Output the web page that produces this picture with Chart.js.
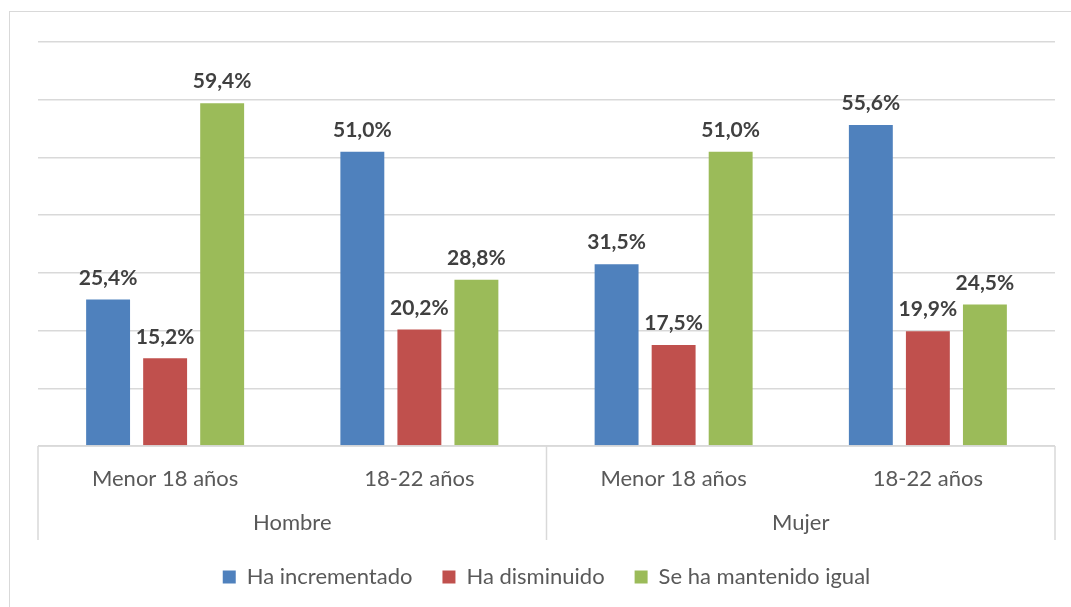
<!DOCTYPE html>
<html>
<head>
<meta charset="utf-8">
<script src="https://cdn.jsdelivr.net/npm/chart.js@4.4.0/dist/chart.umd.min.js"></script>
<style>
  html, body { margin: 0; padding: 0; background: #ffffff; }
  #wrap { position: relative; width: 1071px; height: 607px; overflow: hidden; }
  #frame { position: absolute; left: 9px; top: 11px; width: 1100px; height: 700px;
           border: 1.5px solid #d9d9d9; box-sizing: border-box; }
  #chart { position: absolute; left: 0; top: 0; }
</style>
</head>
<body>
<div id="wrap">
  <div id="frame"></div>
  <canvas id="chart" width="1071" height="607"></canvas>
</div>
<script>
const categories = ['Menor 18 años', '18-22 años', 'Menor 18 años', '18-22 años'];
const groups = ['Hombre', 'Mujer'];
const seriesNames = ['Ha incrementado', 'Ha disminuido', 'Se ha mantenido igual'];
const incrementado = [25.4, 51.0, 31.5, 55.6];
const disminuido = [15.2, 20.2, 17.5, 19.9];
const igual = [59.4, 28.8, 51.0, 24.5];

const COLORS = ['#4f81bd', '#c0504d', '#9bbb59'];
const FONT = 'Lato, "Open Sans", sans-serif';

function fmt(v) {
    return v.toFixed(1).replace('.', ',') + '%';
}

// value labels above every bar
const valueLabels = {
    id: 'valueLabels',
    afterDatasetsDraw(chart) {
        const ctx = chart.ctx;
        ctx.save();
        ctx.font = 'bold 21px ' + FONT;
        ctx.fillStyle = '#404040';
        ctx.textAlign = 'center';
        ctx.textBaseline = 'bottom';
        chart.data.datasets.forEach((ds, i) => {
            chart.getDatasetMeta(i).data.forEach((bar, j) => {
                ctx.fillText(fmt(ds.data[j]), bar.x, bar.y - 11);
            });
        });
        ctx.restore();
    }
};

// two-level category axis frame + group names
const groupAxis = {
    id: 'groupAxis',
    afterDraw(chart) {
        const ctx = chart.ctx;
        const x = chart.scales.x;
        const top = chart.chartArea.bottom;
        const bottom = top + 94;
        const per = categories.length / groups.length;
        const half = (x.getPixelForValue(1) - x.getPixelForValue(0)) / 2;

        ctx.save();
        ctx.strokeStyle = '#d9d9d9';
        ctx.lineWidth = 1.5;
        ctx.beginPath();
        ctx.moveTo(x.left, top);
        ctx.lineTo(x.right, top);
        const edges = [x.left];
        for (let g = 1; g < groups.length; g++) {
            edges.push(x.getPixelForValue(g * per) - half);
        }
        edges.push(x.right);
        edges.forEach(px => {
            ctx.moveTo(px, top);
            ctx.lineTo(px, bottom);
        });
        ctx.stroke();

        ctx.font = '22px ' + FONT;
        ctx.fillStyle = '#595959';
        ctx.textAlign = 'center';
        ctx.textBaseline = 'middle';
        groups.forEach((name, g) => {
            const cx = (edges[g] + edges[g + 1]) / 2;
            ctx.fillText(name, cx, top + 77);
        });
        ctx.restore();
    }
};

new Chart(document.getElementById('chart'), {
    type: 'bar',
    data: {
        labels: categories,
        datasets: [
            { label: seriesNames[0], data: incrementado, backgroundColor: COLORS[0] },
            { label: seriesNames[1], data: disminuido, backgroundColor: COLORS[1] },
            { label: seriesNames[2], data: igual, backgroundColor: COLORS[2] }
        ]
    },
    options: {
        responsive: false,
        animation: false,
        layout: { padding: { left: 38, right: 16, top: 42, bottom: 9 } },
        datasets: {
            bar: { categoryPercentage: 0.673, barPercentage: 0.77 }
        },
        plugins: {
            legend: {
                position: 'bottom',
                labels: {
                    boxWidth: 13,
                    boxHeight: 13,
                    padding: 30,
                    color: '#595959',
                    font: { family: FONT, size: 22 }
                }
            },
            tooltip: { enabled: false }
        },
        scales: {
            x: {
                grid: { display: false, drawTicks: false },
                border: { display: false },
                ticks: {
                    color: '#595959',
                    padding: 20,
                    font: { family: FONT, size: 22 }
                },
                afterFit(scale) { scale.height = 90; }
            },
            y: {
                min: 0,
                max: 70,
                ticks: { display: false, stepSize: 10 },
                grid: { color: '#d9d9d9', lineWidth: 1.5, drawTicks: false },
                border: { display: false },
                afterFit(scale) { scale.width = 0; }
            }
        }
    },
    plugins: [valueLabels, groupAxis]
});
</script>
</body>
</html>
